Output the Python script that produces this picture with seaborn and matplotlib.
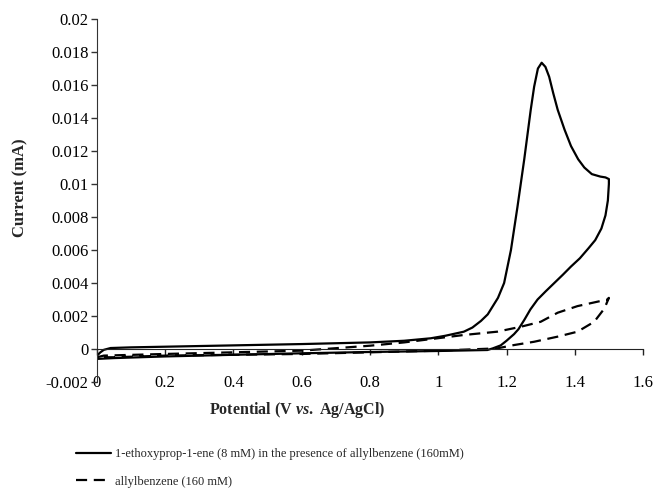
import matplotlib
matplotlib.use("Agg")
import matplotlib.pyplot as plt
import seaborn as sns
import pandas as pd

# cyclic voltammograms (potential in V, current in mA)
solid_label = "1-ethoxyprop-1-ene (8 mM) in the presence of allylbenzene (160mM)"
dash_label = "allylbenzene (160 mM)"

solid_v = [0.0, 0.01, 0.02, 0.04, 0.1, 0.2, 0.4, 0.6, 0.8, 0.9, 0.978, 1.02, 1.075,
           1.10, 1.125, 1.145, 1.16, 1.175, 1.193, 1.213, 1.232, 1.252, 1.271, 1.281,
           1.292, 1.303, 1.314, 1.325, 1.337, 1.35, 1.37, 1.389, 1.41, 1.428, 1.45,
           1.475, 1.49, 1.5, 1.5, 1.497, 1.49, 1.478, 1.46, 1.44, 1.415, 1.389,
           1.365, 1.34, 1.315, 1.291, 1.27, 1.252, 1.235, 1.222, 1.2, 1.183, 1.16,
           1.144, 1.0, 0.8, 0.6, 0.4, 0.2, 0.05, 0.0]
solid_i = [-0.0004, -0.0002, -0.00005, 0.00006, 0.0001, 0.00014, 0.00022, 0.0003,
           0.0004, 0.0005, 0.00065, 0.0008, 0.00105, 0.0013, 0.0017, 0.0021, 0.0026,
           0.0031, 0.0040, 0.0060, 0.0086, 0.0115, 0.0145, 0.0159, 0.0170, 0.01735,
           0.0171, 0.0165, 0.0155, 0.0145, 0.0133, 0.0123, 0.0115, 0.0110, 0.0106,
           0.01045, 0.0104, 0.0103, 0.0100, 0.0090, 0.0081, 0.0073, 0.0066, 0.0061,
           0.0055, 0.0050, 0.0045, 0.0040, 0.0035, 0.0030, 0.0024, 0.00176, 0.0012,
           0.0009, 0.0005, 0.00022, 0.00004, -0.00006, -0.00012, -0.00018, -0.00026,
           -0.00035, -0.00045, -0.00055, -0.0006]

dash_v = [0.0, 0.02, 0.2, 0.4, 0.6, 0.8, 0.9, 0.978, 1.075, 1.173, 1.242, 1.30,
          1.35, 1.408, 1.467, 1.496, 1.5, 1.487, 1.457, 1.408, 1.35, 1.281, 1.222,
          1.173, 1.0, 0.8, 0.6, 0.4, 0.2, 0.05, 0.0]
dash_i = [-0.0005, -0.0004, -0.0003, -0.0002, -0.0001, 0.0002, 0.0004, 0.0006,
          0.00085, 0.00105, 0.00135, 0.00165, 0.0022, 0.0026, 0.00287, 0.0030,
          0.0031, 0.00246, 0.00165, 0.00105, 0.00075, 0.00044, 0.00024, 0.00004,
          -0.0001, -0.0002, -0.0003, -0.00035, -0.0004, -0.0005, -0.0005]

x_ticks = [0, 0.2, 0.4, 0.6, 0.8, 1, 1.2, 1.4, 1.6]
x_ticklabels = ["0", "0.2", "0.4", "0.6", "0.8", "1", "1.2", "1.4", "1.6"]
y_ticks = [-0.002, 0, 0.002, 0.004, 0.006, 0.008, 0.01, 0.012, 0.014, 0.016, 0.018, 0.02]
y_ticklabels = ["-0.002", "0", "0.002", "0.004", "0.006", "0.008", "0.01", "0.012",
                "0.014", "0.016", "0.018", "0.02"]

df = pd.concat([
    pd.DataFrame({"potential": solid_v, "current": solid_i, "series": solid_label}),
    pd.DataFrame({"potential": dash_v, "current": dash_i, "series": dash_label}),
], ignore_index=True)

sns.set_style("ticks")
plt.rcParams["font.family"] = ["Liberation Serif", "DejaVu Serif"]
plt.rcParams["mathtext.fontset"] = "custom"
plt.rcParams["mathtext.it"] = "Liberation Serif:italic:bold"
plt.rcParams["mathtext.rm"] = "Liberation Serif:bold"

fig = plt.figure(figsize=(6.54, 4.94), dpi=100)
ax = fig.add_axes([0.1483, 0.2267, 0.8349, 0.7348])

sns.lineplot(data=df, x="potential", y="current", style="series",
             dashes={solid_label: "", dash_label: (5, 3)},
             color="black", linewidth=1.6, sort=False, estimator=None, ax=ax)

ax.set_xlim(0, 1.6)
ax.set_ylim(-0.002, 0.02)
ax.set_xticks(x_ticks)
ax.set_xticklabels(x_ticklabels)
ax.set_yticks(y_ticks)
ax.set_yticklabels(y_ticklabels)
ax.set_xlabel("")
ax.set_ylabel("")

for s in ["top", "right"]:
    ax.spines[s].set_visible(False)
ax.spines["bottom"].set_position(("data", 0))
ax.spines["bottom"].set_color("#222222")
ax.spines["left"].set_color("#333333")
ax.tick_params(axis="x", direction="out", length=4, width=1, pad=14.5,
               labelsize=12, colors="#222222", labelcolor="black")
ax.tick_params(axis="y", direction="out", length=4, width=1, pad=2,
               labelsize=12, colors="#333333", labelcolor="black")

fig.text(297 / 654, 1 - 410 / 494, r"Potential (V $vs.$ Ag/AgCl)",
         ha="center", va="center", fontsize=11.5, fontweight="bold")
fig.text(20 / 654, 1 - 188 / 494, "Current (mA)", rotation=90,
         ha="center", va="center", fontsize=12, fontweight="bold")

handles, labels = ax.get_legend_handles_labels()
ax.get_legend().remove()
fig.legend(handles, labels, loc="upper left",
           bbox_to_anchor=(76 / 654, 1 - 448 / 494), frameon=False,
           fontsize=9, handlelength=2.8, handletextpad=0.3,
           labelspacing=1.25, borderpad=0, borderaxespad=0)

fig.savefig("out.png", dpi=100)
